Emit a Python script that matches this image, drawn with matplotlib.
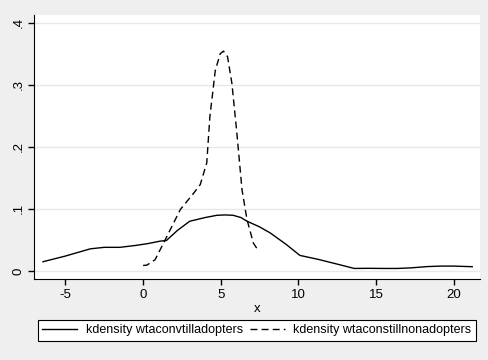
import matplotlib.pyplot as plt
import numpy as np

plt.rcParams['font.family'] = ['Liberation Sans', 'DejaVu Sans']
plt.rcParams['axes.unicode_minus'] = False

# kdensity of wtaconvtilladopters (solid)
x_adopt = [-6.45, -5.0, -3.4, -2.5, -1.5, -0.5, 0.3, 1.1, 1.5, 2.2, 3.0, 4.0,
           4.75, 5.3, 5.8, 6.3, 6.7, 7.5, 8.2, 9.2, 10.1, 11.3, 12.5, 13.6,
           14.5, 15.5, 16.4, 17.3, 18.3, 19.2, 20.0, 21.2]
y_adopt = [0.0148, 0.024, 0.0356, 0.038, 0.038, 0.041, 0.044, 0.048, 0.049,
           0.065, 0.080, 0.086, 0.0896, 0.0902, 0.0896, 0.086, 0.080, 0.071,
           0.061, 0.043, 0.025, 0.0185, 0.011, 0.004, 0.0042, 0.004, 0.004,
           0.005, 0.007, 0.0078, 0.0078, 0.0068]

# kdensity of wtaconstillnonadopters (dashed)
x_non = [0.0, 0.24, 0.77, 1.42, 2.4, 3.25, 3.68, 4.1, 4.3, 4.65, 4.97, 5.18,
         5.44, 5.72, 6.04, 6.37, 6.69, 7.1, 7.44]
y_non = [0.0088, 0.0093, 0.018, 0.050, 0.099, 0.125, 0.139, 0.174, 0.248,
         0.323, 0.350, 0.354, 0.345, 0.302, 0.222, 0.131, 0.083, 0.045, 0.032]

xticks = [-5, 0, 5, 10, 15, 20]
yticks = [0, 0.1, 0.2, 0.3, 0.4]
ytick_labels = ['0', '.1', '.2', '.3', '.4']

fig = plt.figure(figsize=(4.89, 3.6), dpi=100, facecolor='#efefef')
ax = fig.add_axes([0.0695, 0.225, 0.912, 0.733])
ax.set_facecolor('white')

ax.plot(x_adopt, y_adopt, color='black', lw=1.0,
        label='kdensity wtaconvtilladopters')
ax.plot(x_non, y_non, color='black', lw=1.0, linestyle=(0, (5, 3)),
        label='kdensity wtaconstillnonadopters')

ax.set_xlim(-7.03, 21.7)
ax.set_ylim(-0.013, 0.412)
ax.set_xticks(xticks)
ax.set_yticks(yticks)
ax.set_yticklabels(ytick_labels, rotation=90, va='center')
ax.tick_params(direction='out', length=4, width=1, labelsize=9.5,
               colors='black', pad=3)
ax.grid(axis='y', color='#e8e8e8', lw=1)
ax.set_axisbelow(True)
for s in ['top', 'right']:
    ax.spines[s].set_visible(False)
ax.set_xlabel('x', fontsize=9.5, labelpad=2)

leg = fig.legend(loc='center', bbox_to_anchor=(257/489, 1 - 330.5/360),
                 ncol=2, fancybox=False, edgecolor='black',
                 framealpha=1, fontsize=9, handlelength=2.8, borderpad=0.35,
                 columnspacing=0.5, handletextpad=0.7, borderaxespad=0.3)
leg.get_frame().set_linewidth(0.8)

fig.savefig('out.png', dpi=100, facecolor=fig.get_facecolor())
